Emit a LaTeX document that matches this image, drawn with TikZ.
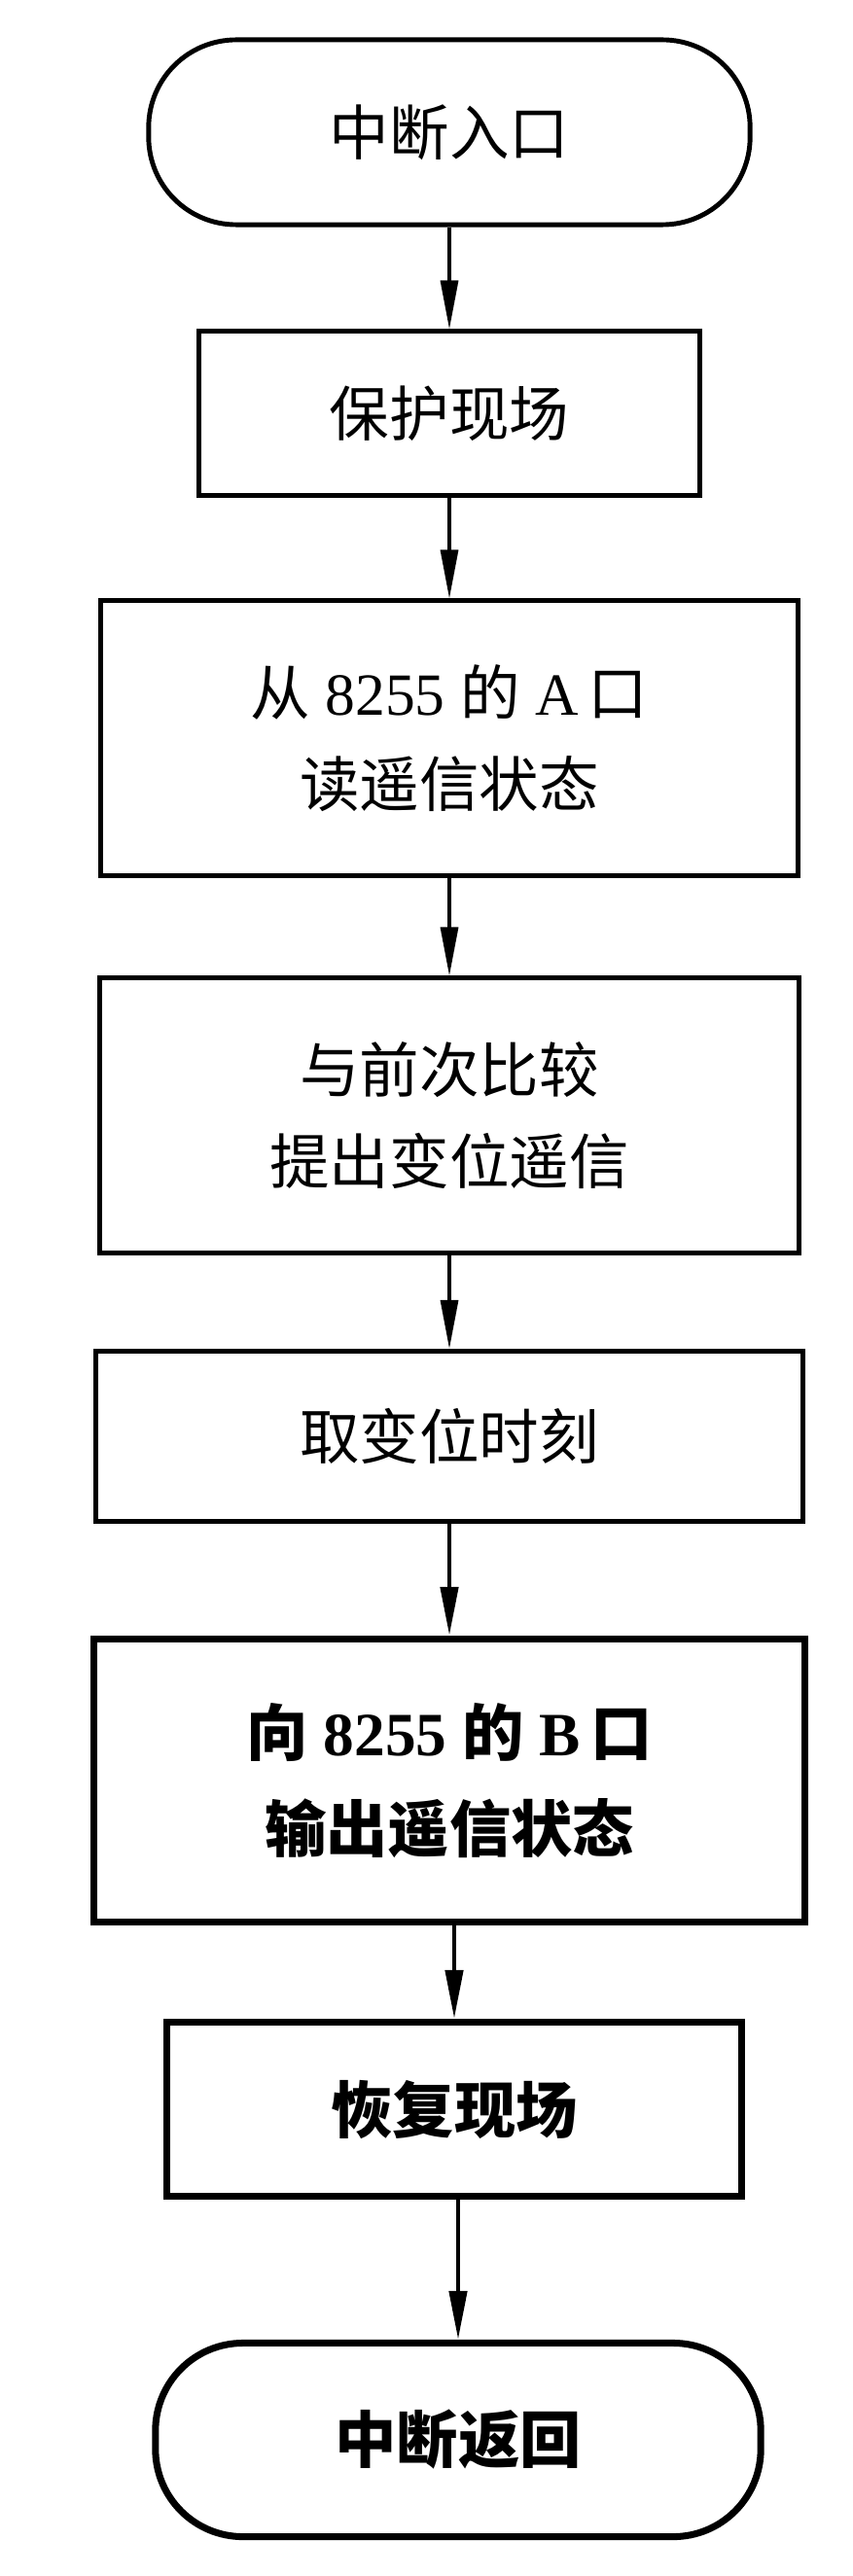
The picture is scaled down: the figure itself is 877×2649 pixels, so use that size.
\documentclass[tikz,border=0pt]{standalone}
\usepackage{fontspec}
\setmainfont{Liberation Serif}
\newfontfamily\cjk{Noto Sans CJK SC}
\usetikzlibrary{arrows.meta}

\begin{document}
\begin{tikzpicture}[x=0.01cm, y=-0.01cm,
	box/.style = {draw, line width=1.4pt, align=center, inner sep=0pt, font=\fontsize{17.5}{26.7}\selectfont},
	term/.style = {box, rounded corners=0.9cm},
	heavy/.style = {line width=2pt, font=\fontsize{18}{28}\selectfont\bfseries},
	flow/.style = {line width=0.9pt, -{Triangle[length=5mm, width=1.8mm]}}]
	\useasboundingbox (0,0) rectangle (877,2649);
	% start and saving
	\node[term, minimum width=6.18cm, minimum height=1.9cm] (entry) at (462,136) {\cjk 中断入口};
	\node[box, minimum width=5.14cm, minimum height=1.68cm] (save) at (462,425) {\cjk 保护现场};
	\node[box, minimum width=7.16cm, minimum height=2.82cm] (readA) at (462,759) {{\cjk 从} 8255 {\cjk 的} A\,{\cjk 口}\\{\cjk 读遥信状态}};
	\node[box, minimum width=7.19cm, minimum height=2.82cm] (compare) at (462,1147) {\cjk 与前次比较\\\cjk 提出变位遥信};
	\node[box, minimum width=7.27cm, minimum height=1.75cm] (stamp) at (462,1477) {\cjk 取变位时刻};
	% output and return
	\node[box, heavy, minimum width=7.31cm, minimum height=2.91cm] (writeB) at (462,1831) {{\cjk 向} 8255 {\cjk 的} B\,{\cjk 口}\\{\cjk 输出遥信状态}};
	\node[box, heavy, minimum width=5.9cm, minimum height=1.79cm] (restore) at (467,2169) {\cjk 恢复现场};
	\node[term, heavy, minimum width=6.22cm, minimum height=1.99cm] (exit) at (471,2509) {\cjk 中断返回};

	\draw[flow] (entry) -- (save);
	\draw[flow] (save) -- (readA);
	\draw[flow] (readA) -- (compare);
	\draw[flow] (compare) -- (stamp);
	\draw[flow, line width=1.3pt] (stamp) -- (writeB);
	\draw[flow, line width=1.3pt] (writeB.south -| restore) -- (restore);
	\draw[flow, line width=1.3pt] (restore.south -| exit) -- (exit);
\end{tikzpicture}
\end{document}
